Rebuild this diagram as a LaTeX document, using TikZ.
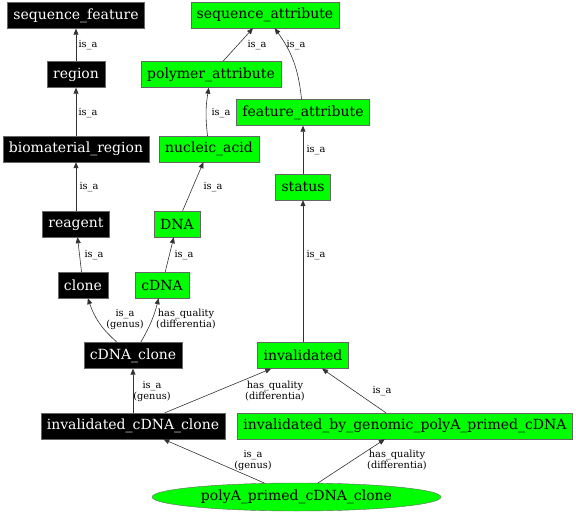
\documentclass[tikz,border=0pt]{standalone}
\usepackage{fontspec}
\setmainfont{DejaVu Serif}
\usetikzlibrary{arrows.meta,shapes.geometric}
\begin{document}
\begin{tikzpicture}[x=1pt,y=-1pt,
  blackterm/.style={draw=black!60,fill=black,text=white,font=\fontsize{14}{16}\selectfont,
    inner xsep=6pt,inner ysep=0pt,minimum height=26pt},
  greenterm/.style={blackterm,fill=green,text=black},
  rel/.style={draw=black!80,line width=0.6pt,-{Triangle[length=6pt,width=5pt]}},
  lbl/.style={font=\fontsize{9.8}{11}\selectfont,align=center,inner sep=0pt}]
\useasboundingbox (0,0) rectangle (576,516);
\node[blackterm] (seqfeature) at (76,15.5) {sequence\_feature};
\node[blackterm] (region) at (76,74.5) {region};
\node[blackterm] (biomaterial) at (76,149) {biomaterial\_region};
\node[blackterm] (reagent) at (76,224) {reagent};
\node[blackterm] (clone) at (83,285) {clone};
\node[blackterm] (cdnaclone) at (133,355.5) {cDNA\_clone};
\node[blackterm] (invcdnaclone) at (133,426) {invalidated\_cDNA\_clone};
\node[greenterm] (seqattr) at (265,15) {sequence\_attribute};
\node[greenterm] (polymer) at (211,74.5) {polymer\_attribute};
\node[greenterm] (featattr) at (303,112.5) {feature\_attribute};
\node[greenterm] (nucleic) at (209,149) {nucleic\_acid};
\node[greenterm] (status) at (303,187) {status};
\node[greenterm] (dna) at (177,224) {DNA};
\node[greenterm] (cdna) at (162,285) {cDNA};
\node[greenterm] (invalidated) at (303,355.5) {invalidated};
\node[greenterm] (invbygenomic) at (405,426) {invalidated\_by\_genomic\_polyA\_primed\_cDNA};
\node[greenterm,ellipse,inner sep=0pt,minimum width=289pt,minimum height=28pt] (polya) at (296.5,497) {polyA\_primed\_cDNA\_clone};

\draw[rel] (region) -- (seqfeature);
\draw[rel] (biomaterial) -- (region);
\draw[rel] (reagent) -- (biomaterial);
\draw[rel] (clone) -- (reagent);
\draw[rel] (cdna) -- (dna);
\draw[rel] (dna) -- (nucleic);
\draw[rel] (nucleic) to[bend left=8] (polymer);
\draw[rel] (polymer) -- (seqattr);
\draw[rel] (featattr) to[bend right=15] (seqattr);
\draw[rel] (status) -- (featattr);
\draw[rel] (invalidated) -- (status);
\draw[rel] (cdnaclone) to[bend left=15] (clone);
\draw[rel] (cdnaclone) to[bend right=8] (cdna);
\draw[rel] (invcdnaclone) -- (cdnaclone);
\draw[rel] (invcdnaclone) -- (invalidated);
\draw[rel] (invbygenomic) -- (invalidated);
\draw[rel] (polya) -- (invcdnaclone);
\draw[rel] (polya) -- (invbygenomic);

\node[lbl] (l1) at (88,45) {is\_a};
\node[lbl] (l2) at (88,113) {is\_a};
\node[lbl] (l3) at (89,187) {is\_a};
\node[lbl] (l4) at (94,255) {is\_a};
\node[lbl] (l5) at (184,255) {is\_a};
\node[lbl] (l6) at (213,187) {is\_a};
\node[lbl] (l7) at (221,113) {is\_a};
\node[lbl] (l8) at (257,45) {is\_a};
\node[lbl] (l9) at (296,45) {is\_a};
\node[lbl] (l10) at (316,150) {is\_a};
\node[lbl] (l11) at (316,255) {is\_a};
\node[lbl] (l12) at (125,319) {is\_a\\(genus)};
\node[lbl] (l13) at (186,319) {has\_quality\\(differentia)};
\node[lbl] (l14) at (152,391) {is\_a\\(genus)};
\node[lbl] (l15) at (275,391) {has\_quality\\(differentia)};
\node[lbl] (l16) at (382,391) {is\_a};
\node[lbl] (l17) at (253,460) {is\_a\\(genus)};
\node[lbl] (l18) at (397,460) {has\_quality\\(differentia)};
\end{tikzpicture}
\end{document}
